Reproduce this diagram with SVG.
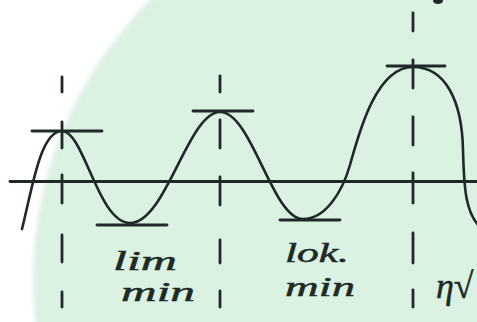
<svg xmlns="http://www.w3.org/2000/svg" width="477" height="322" viewBox="0 0 477 322">
  <defs>
    <filter id="soft" x="-10%" y="-10%" width="120%" height="120%">
      <feGaussianBlur stdDeviation="2"/>
    </filter>
  </defs>
  <style>
    .ink { stroke: #1e2a26; fill: none; stroke-linecap: round; }
    .curve { stroke-width: 2.6; }
    .axis { stroke-width: 2.8; }
    .tan { stroke-width: 2.8; }
    .dash { stroke-width: 2.8; }
    .hand { font-family: "Liberation Serif", "DejaVu Serif", serif; font-style: italic; font-size: 27px; fill: #1e2a26; stroke: #1e2a26; stroke-width: 0.5; }
    .big { font-size: 36px; }
  </style>
  <rect width="477" height="322" fill="#ffffff"/>
  <circle id="background" cx="426" cy="280" r="393" fill="#dbf2e3" filter="url(#soft)"/>

  <g id="axis">
    <line class="ink axis" x1="10" y1="181.5" x2="477" y2="181.5"/>
  </g>

  <g id="dashed-lines" class="ink dash">
    <line x1="62" y1="77" x2="62" y2="92"/>
    <line x1="62" y1="122" x2="62" y2="148"/>
    <line x1="62" y1="175" x2="62" y2="203"/>
    <line x1="62" y1="235" x2="62" y2="262"/>
    <line x1="62" y1="292" x2="62" y2="307"/>

    <line x1="220" y1="76" x2="220" y2="92"/>
    <line x1="220" y1="120" x2="220" y2="148"/>
    <line x1="220" y1="177" x2="220" y2="205"/>
    <line x1="220" y1="240" x2="220" y2="263"/>
    <line x1="220" y1="291" x2="220" y2="307"/>

    <line x1="413" y1="13" x2="413" y2="31"/>
    <line x1="413" y1="60" x2="413" y2="88"/>
    <line x1="413" y1="117" x2="413" y2="145"/>
    <line x1="413" y1="173" x2="413" y2="203"/>
    <line x1="413" y1="233" x2="413" y2="263"/>
    <line x1="413" y1="290" x2="413" y2="307"/>
  </g>

  <g id="tangents" class="ink tan">
    <line x1="32" y1="131" x2="102" y2="131"/>
    <line x1="193" y1="111" x2="253" y2="111"/>
    <line x1="387" y1="66" x2="445" y2="66"/>
    <line x1="97" y1="225" x2="167" y2="225"/>
    <line x1="280" y1="220" x2="340" y2="220"/>
  </g>

  <g id="curve">
    <path class="ink curve" d="M22,229 C32,190 40,131 62,131 C84,131 98,223 130,223 C166,223 188,112 220,112 C252,112 272,219 303,219 C325,219 342,193 350,165 C358,137 375,67 413,67 C445,67 462,100 463,150 C464,190 466,212 479,226"/>
  </g>

  <g id="labels">
    <text class="hand" x="113" y="270" textLength="64" lengthAdjust="spacingAndGlyphs">lim</text>
    <text class="hand" x="121" y="301" textLength="74" lengthAdjust="spacingAndGlyphs">min</text>
    <text class="hand" x="285" y="262" textLength="64" lengthAdjust="spacingAndGlyphs">lok.</text>
    <text class="hand" x="285" y="296" textLength="70" lengthAdjust="spacingAndGlyphs">min</text>
    <text class="hand big" x="436" y="298">η√</text>
  </g>

  <g id="top-mark">
    <ellipse cx="438" cy="1" rx="5" ry="3" fill="#1e2a26"/>
  </g>
</svg>
